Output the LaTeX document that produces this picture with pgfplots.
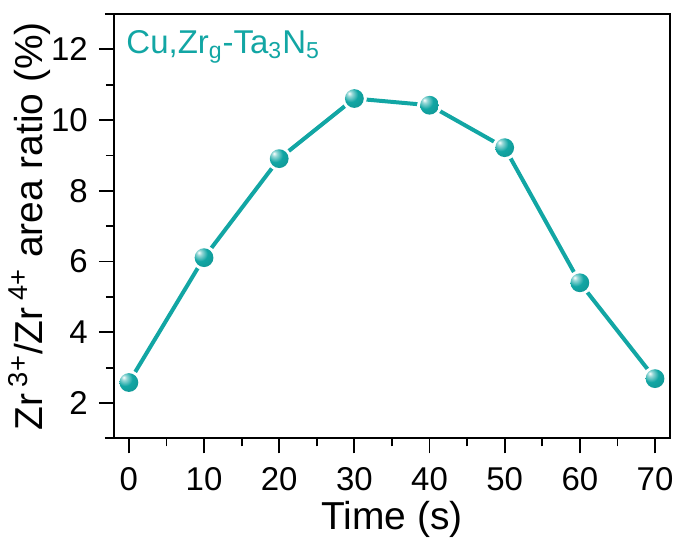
\documentclass[border=0pt]{standalone}
\usepackage{fontspec}
\setmainfont{Liberation Sans}
\usepackage{pgfplots}
\pgfplotsset{compat=1.18}
\usepackage{pgfplotstable}
\definecolor{teal1}{RGB}{18,166,164}

% shaded sphere marker, highlight at upper left
\pgfdeclareradialshading{tballshade}{\pgfpoint{-14bp}{14bp}}{%
  color(0bp)=(white); color(7bp)=(teal1!45!white); color(20bp)=(teal1);
  color(50bp)=(teal1!85!black); color(80bp)=(teal1!70!black)}
\pgfdeclareplotmark{tball}{%
  \pgfpathcircle{\pgfpointorigin}{\pgfplotmarksize}%
  \pgfshadepath{tballshade}{0}%
  \pgfusepath{}}

\pgfplotstableread{
t ratio
0 2.58
10 6.11
20 8.91
30 10.61
40 10.42
50 9.22
60 5.40
70 2.69
}\ratiodata

\begin{document}
\begin{tikzpicture}
\begin{axis}[name=ax, scale only axis, width=278.5pt, height=212.5pt,
  xmin=-2, xmax=72, ymin=1, ymax=13,
  xtick={0,10,...,70}, ytick={2,4,...,12},
  minor x tick num=1, minor y tick num=1,
  xtick pos=bottom, ytick pos=left, tick align=outside,
  major tick length=7.5pt, minor tick length=4pt,
  every tick/.style={black, line width=0.9pt},
  axis line style={line width=1pt},
  /pgf/number format/assume math mode=true,
  xticklabel={\pgfmathprintnumber{\tick}},
  yticklabel={\pgfmathprintnumber{\tick}},
  tick label style={font=\fontsize{16.5}{19}\selectfont},
  xticklabel style={yshift=-3.5pt},
  yticklabel style={xshift=-2pt},
  label style={font=\fontsize{19.5}{23}\selectfont, inner sep=0pt},
  xlabel={Time (s)},
  ylabel={Zr\,\textsuperscript{3+}/Zr\,\textsuperscript{4+} area ratio (\%)},
  xlabel style={at={(axis description cs:0.5,-0.214)}, anchor=base},
  ylabel style={at={(axis description cs:-0.1275,0.5)}, anchor=base},
  clip=false]
  \addplot[teal1, line width=2pt] table[x=t, y=ratio] {\ratiodata};
  \addplot[only marks, mark=*, mark size=6pt, mark options={white, fill=white}] table[x=t, y=ratio] {\ratiodata};
  \addplot[only marks, mark=tball, mark size=4.7pt] table[x=t, y=ratio] {\ratiodata};
  \node[anchor=base west, text=teal1, font=\fontsize{16.5}{19}\selectfont, inner sep=0pt]
    at (rel axis cs:0.022,0.908) {Cu,Zr\textsubscript{g}-Ta\textsubscript{3}N\textsubscript{5}};
\end{axis}
\draw[line width=1pt, shift={(ax.south west)}] (-4.5pt,0) -- (0.5pt,0);
\draw[line width=1pt, shift={(ax.north west)}] (-4.5pt,0) -- (0.5pt,0);
\path[shift={(ax.south west)}] (-57pt,-48pt) rectangle (283pt,219.5pt);
\end{tikzpicture}
\end{document}
